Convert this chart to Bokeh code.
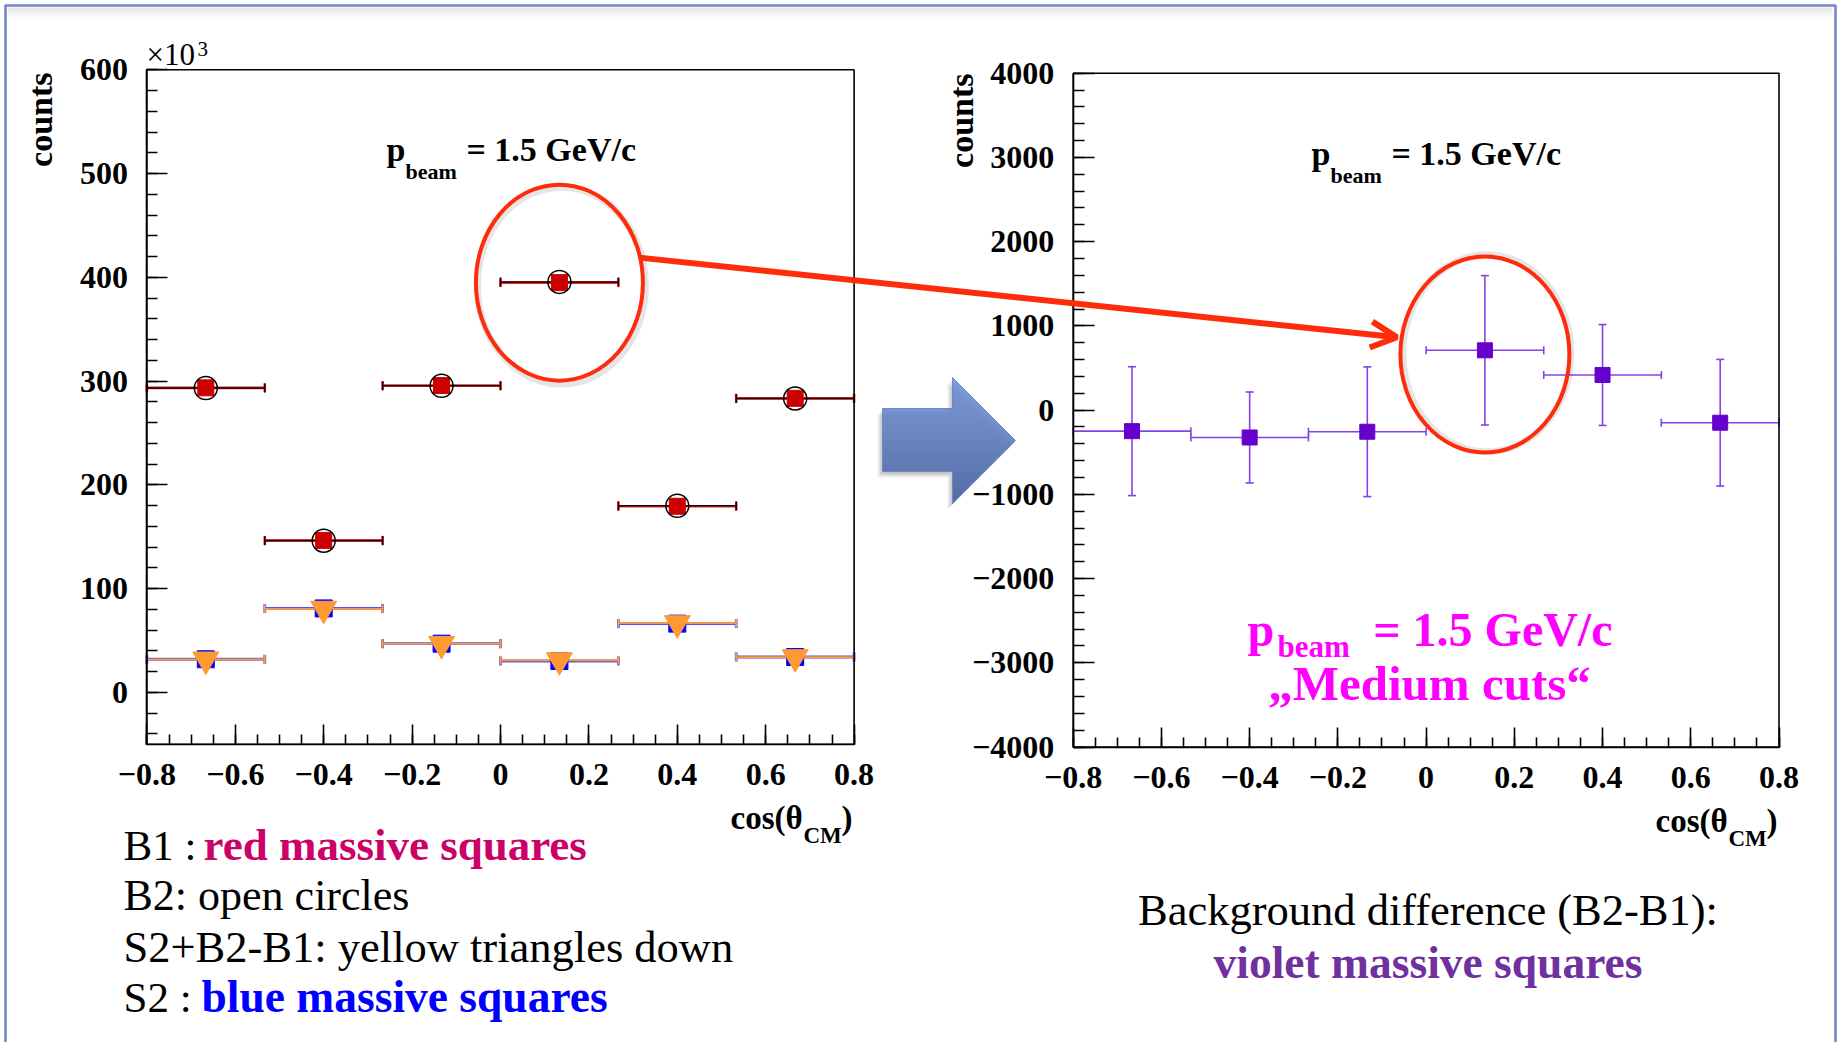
import numpy as np
from bokeh.plotting import figure
from bokeh.models import (Range1d, LinearAxis, FixedTicker, CustomJSTickFormatter,
                          ColumnDataSource, Whisker, TeeHead, Label, Arrow, OpenHead)
from bokeh.embed import file_html
from bokeh.resources import INLINE

# ---------------- data ----------------
bin_edges = [-0.8, -0.5333, -0.2667, 0.0, 0.2667, 0.5333, 0.8]
bin_centers = [-0.6667, -0.4, -0.1333, 0.1333, 0.4, 0.6667]

# left panel (counts x 10^3)
b1_counts = [293.5, 146.5, 295.7, 394.9, 179.4, 283.4]
b2_counts = [293.25, 146.18, 295.44, 395.61, 179.82, 283.25]
s2b2b1_counts = [31.7, 80.6, 46.7, 31.0, 66.7, 34.0]
s2_counts = [31.95, 80.93, 46.96, 30.29, 66.28, 34.15]

# right panel: background difference B2-B1 (counts)
diff_counts = [-250, -325, -257, 710, 417, -150]
diff_errors = [765, 540, 770, 887, 599, 752]

x_ticks = [-0.8, -0.6, -0.4, -0.2, 0.0, 0.2, 0.4, 0.6, 0.8]
left_y_ticks = [0, 100, 200, 300, 400, 500, 600]
right_y_ticks = [-4000, -3000, -2000, -1000, 0, 1000, 2000, 3000, 4000]

HIGHLIGHT = 3  # bin circled in both panels

# ---------------- page layout ----------------
W, H = 1839, 1042
X_LIM = (-0.8, 0.8)
LEFT_Y_LIM = (-50, 600)
RIGHT_Y_LIM = (-4000, 4000)
LEFT_BOX = (146.4, 853.6, 69.3, 743.8)     # frame left, right, top, bottom (page px)
RIGHT_BOX = (1072.7, 1778.5, 72.7, 746.5)

FONT = "Liberation Serif"
RED = "#ff2c0c"


def x_span(box):
    k = (X_LIM[1] - X_LIM[0]) / (box[1] - box[0])
    return Range1d(X_LIM[0] - box[0] * k, X_LIM[0] + (W - box[0]) * k)


def y_span(box, lim):
    k = (lim[1] - lim[0]) / (box[3] - box[2])
    return Range1d(lim[0] + (box[3] - H) * k, lim[0] + box[3] * k)


def to_page(box, lim, x, y):
    px = box[0] + (x - X_LIM[0]) / (X_LIM[1] - X_LIM[0]) * (box[1] - box[0])
    py = box[3] - (y - lim[0]) / (lim[1] - lim[0]) * (box[3] - box[2])
    return px, py


p = figure(width=W, height=H, x_range=Range1d(0, W), y_range=Range1d(H, 0),
           x_axis_type=None, y_axis_type=None, output_backend="svg",
           toolbar_location=None, min_border=0)
p.outline_line_color = None
p.background_fill_color = "white"
p.border_fill_color = "white"
p.extra_x_ranges = {"lx": x_span(LEFT_BOX), "rx": x_span(RIGHT_BOX)}
p.extra_y_ranges = {"ly": y_span(LEFT_BOX, LEFT_Y_LIM), "ry": y_span(RIGHT_BOX, RIGHT_Y_LIM)}


def tick_fmt():
    return CustomJSTickFormatter(code="""
        if (Math.abs(tick) < 1e-9) { return "0"; }
        const a = Math.abs(tick);
        const s = Number.isInteger(a) ? String(a) : a.toFixed(1);
        return (tick < 0 ? "\\u2212" : "") + s;
    """)


def frame_axes(xr, yr, ylim, yticks, ystep):
    common = dict(x_range_name=xr, y_range_name=yr,
                  axis_line_width=1.6, axis_line_color="black",
                  major_tick_line_width=1.6, minor_tick_line_width=1.6,
                  major_tick_line_color="black", minor_tick_line_color="black",
                  major_tick_out=0, minor_tick_out=0,
                  major_label_text_font=FONT, major_label_text_font_style="bold",
                  major_label_text_font_size="32px", major_label_text_color="black")
    x_minor = np.round(np.arange(X_LIM[0], X_LIM[1] + 1e-9, 0.05), 4).tolist()
    first = np.ceil(ylim[0] / ystep) * ystep
    y_minor = np.arange(first, ylim[1] + 1e-9, ystep).tolist()
    xa = LinearAxis(fixed_location=ylim[0], bounds=X_LIM,
                    ticker=FixedTicker(ticks=x_ticks, minor_ticks=x_minor),
                    formatter=tick_fmt(), major_tick_in=20, minor_tick_in=10,
                    major_label_standoff=20, **common)
    ya = LinearAxis(fixed_location=X_LIM[0], bounds=ylim,
                    ticker=FixedTicker(ticks=yticks, minor_ticks=y_minor),
                    formatter=tick_fmt(), major_tick_in=21, minor_tick_in=11,
                    major_label_standoff=19, **common)
    p.add_layout(xa, "below")
    p.add_layout(ya, "left")
    p.quad(left=[X_LIM[0]], right=[X_LIM[1]], bottom=[ylim[0]], top=[ylim[1]],
           fill_color=None, line_color="black", line_width=1.6,
           x_range_name=xr, y_range_name=yr)


frame_axes("lx", "ly", LEFT_Y_LIM, left_y_ticks, 20)
frame_axes("rx", "ry", RIGHT_Y_LIM, right_y_ticks, 200)


def whisker(src, base, lo, hi, dim, color, width, head, xr, yr):
    p.add_layout(Whisker(source=src, base=base, lower=lo, upper=hi, dimension=dim,
                         line_color=color, line_width=width,
                         lower_head=TeeHead(size=head, line_color=color, line_width=width),
                         upper_head=TeeHead(size=head, line_color=color, line_width=width),
                         x_range_name=xr, y_range_name=yr))


# ---------------- left panel ----------------
src_l = ColumnDataSource(dict(x=bin_centers, lo=bin_edges[:-1], hi=bin_edges[1:],
                              b1=b1_counts, b2=b2_counts, sb=s2b2b1_counts, s2=s2_counts))
whisker(src_l, "b1", "lo", "hi", "width", "#e8262a", 2.6, 9, "lx", "ly")
whisker(src_l, "b2", "lo", "hi", "width", "#1a0000", 1.5, 9, "lx", "ly")
whisker(src_l, "s2", "lo", "hi", "width", "#5050ff", 2.8, 9, "lx", "ly")
whisker(src_l, "sb", "lo", "hi", "width", "#ff9933", 1.8, 9, "lx", "ly")

kw_l = dict(source=src_l, x_range_name="lx", y_range_name="ly")
p.scatter("x", "s2", marker="square", size=17, fill_color="#0000ff", line_color="#0000ff", **kw_l)
p.scatter("x", "sb", marker="inverted_triangle", size=26, fill_color="#ff9933",
          line_color="#ff9933", **kw_l)
p.scatter("x", "b1", marker="square", size=16, fill_color="#cc0000", line_color="#cc0000", **kw_l)
p.scatter("x", "b2", marker="circle", size=23, fill_color=None, line_color="black",
          line_width=1.5, **kw_l)

# ---------------- right panel ----------------
src_r = ColumnDataSource(dict(x=bin_centers, lo=bin_edges[:-1], hi=bin_edges[1:], d=diff_counts,
                              dlo=[d - e for d, e in zip(diff_counts, diff_errors)],
                              dhi=[d + e for d, e in zip(diff_counts, diff_errors)]))
whisker(src_r, "d", "lo", "hi", "width", "#8242e6", 1.6, 8, "rx", "ry")
whisker(src_r, "x", "dlo", "dhi", "height", "#8242e6", 1.6, 8, "rx", "ry")
p.scatter("x", "d", marker="square", size=15, fill_color="#6600cc", line_color="#6600cc",
          source=src_r, x_range_name="rx", y_range_name="ry")

# ---------------- highlight ellipses and connecting arrow ----------------
lc = to_page(LEFT_BOX, LEFT_Y_LIM, bin_centers[HIGHLIGHT], b1_counts[HIGHLIGHT])
rc = to_page(RIGHT_BOX, RIGHT_Y_LIM, bin_centers[HIGHLIGHT], diff_counts[HIGHLIGHT])
for (cx, cy) in (lc, rc):
    p.ellipse(x=[cx + 2], y=[cy + 3], width=168, height=197, fill_color=None,
              line_color="#000000", line_alpha=0.10, line_width=7)
p.ellipse(x=[bin_centers[HIGHLIGHT]], y=[b1_counts[HIGHLIGHT]], width=167, height=196,
          width_units="screen", height_units="screen", fill_color=None,
          line_color=RED, line_width=4, x_range_name="lx", y_range_name="ly")
p.ellipse(x=[bin_centers[HIGHLIGHT]], y=[diff_counts[HIGHLIGHT] - 50], width=169, height=196,
          width_units="screen", height_units="screen", fill_color=None,
          line_color=RED, line_width=4, x_range_name="rx", y_range_name="ry")

p.add_layout(Arrow(x_start=lc[0] + 80, y_start=lc[1] - 25, x_end=rc[0] - 88, y_end=rc[1] - 13,
                   line_color=RED, line_width=6,
                   end=OpenHead(size=26, line_color=RED, line_width=6)))

# ---------------- block arrow between the panels ----------------
TAIL, NECK, TIP = 882, 952, 1015
HEAD_TOP, SHAFT_TOP, MID, SHAFT_BOT, HEAD_BOT = 377, 408, 440, 471, 503
outline_x = [TAIL, NECK, NECK, TIP, NECK, NECK, TAIL]
outline_y = [SHAFT_TOP, SHAFT_TOP, HEAD_TOP, MID, HEAD_BOT, SHAFT_BOT, SHAFT_BOT]
for dx, dy, a in ((-5, 6, 0.07), (-3, 4, 0.10), (-1, 2, 0.08)):
    p.patch([v + dx for v in outline_x], [v + dy for v in outline_y],
            fill_color="black", fill_alpha=a, line_color=None)
rows = np.arange(HEAD_TOP, HEAD_BOT, 1.0)
lefts, rights, cols = [], [], []
c_top, c_bot = np.array([114, 148, 216]), np.array([73, 99, 162])
for y in rows:
    yc = y + 0.5
    lefts.append(TAIL if SHAFT_TOP <= yc <= SHAFT_BOT else NECK)
    rights.append(NECK + (MID - HEAD_TOP - abs(yc - MID)) * (TIP - NECK) / (MID - HEAD_TOP))
    t = (yc - HEAD_TOP) / (HEAD_BOT - HEAD_TOP)
    r, g, b = (c_top + (c_bot - c_top) * t).astype(int)
    cols.append("#%02x%02x%02x" % (r, g, b))
p.quad(left=lefts, right=rights, top=rows.tolist(), bottom=(rows + 1.3).tolist(),
       fill_color=cols, line_color=None)
p.patch(outline_x, outline_y, fill_color=None, line_color="#6d89cc", line_width=1)

# ---------------- slide frame ----------------
for i, a in enumerate((0.10, 0.07, 0.05, 0.03, 0.015)):
    p.line([7, W - 7], [8 + 2 * i, 8 + 2 * i], line_color="black", line_alpha=a, line_width=2)
p.line([5, 5, W - 4, W - 4], [H, 5, 5, H], line_color="#7487c6", line_width=2.6)


# ---------------- texts ----------------
def txt(x, y, s, size, bold=False, color="black", align="left", angle=0.0):
    """Place text with its baseline at page row y."""
    p.add_layout(Label(x=x, y=y - 0.34 * size, text=s, text_font=FONT,
                       text_font_size=f"{size}px",
                       text_font_style="bold" if bold else "normal", text_color=color,
                       text_align=align, text_baseline="alphabetic", angle=angle))


def vtxt(x, y_top, s, size):
    p.add_layout(Label(x=x, y=y_top, text=s, text_font=FONT, text_font_size=f"{size}px",
                       text_font_style="bold", text_color="black", text_align="right",
                       text_baseline="middle", angle=np.pi / 2))


# axis titles
vtxt(40, 72, "counts", 34)
vtxt(961, 73, "counts", 34)
txt(146, 65, "\u00d710", 31)
txt(197, 56, "3", 21)
for x0, y0 in ((730, 829), (1655, 832)):
    txt(x0, y0, "cos(\u03b8", 33, bold=True)
    txt(x0 + 73, y0 + 14, "CM", 23, bold=True)
    txt(x0 + 111, y0, ")", 33, bold=True)

# beam momentum captions
for x0, y0 in ((386, 161), (1311, 165)):
    txt(x0, y0, "p", 34, bold=True)
    txt(x0 + 19, y0 + 17, "beam", 22, bold=True)
    txt(x0 + 80, y0, "= 1.5 GeV/c", 34, bold=True)

txt(1247, 645, "p", 48, bold=True, color="#ff00ff")
txt(1277, 657, "beam", 31, bold=True, color="#ff00ff")
txt(1612, 645, "= 1.5 GeV/c", 48, bold=True, color="#ff00ff", align="right")
txt(1429, 700, "\u201eMedium cuts\u201c", 49, bold=True, color="#ff00ff", align="center")

# descriptions below the panels
txt(123, 859.5, "B1 : ", 43)
txt(203, 859.5, "red massive squares", 45, bold=True, color="#cc0066")
txt(123, 909.5, "B2: open circles", 44)
txt(123, 961.5, "S2+B2-B1: yellow triangles down", 44.5)
txt(123, 1011.5, "S2 : ", 43)
txt(201, 1011.5, "blue massive squares", 45.5, bold=True, color="#0000ff")

txt(1427.5, 925, "Background difference (B2-B1):", 44.5, align="center")
txt(1427.5, 977, "violet massive squares", 45.5, bold=True, color="#7030a0", align="center")

open("out.html", "w", encoding="utf-8").write(file_html(p, INLINE))
